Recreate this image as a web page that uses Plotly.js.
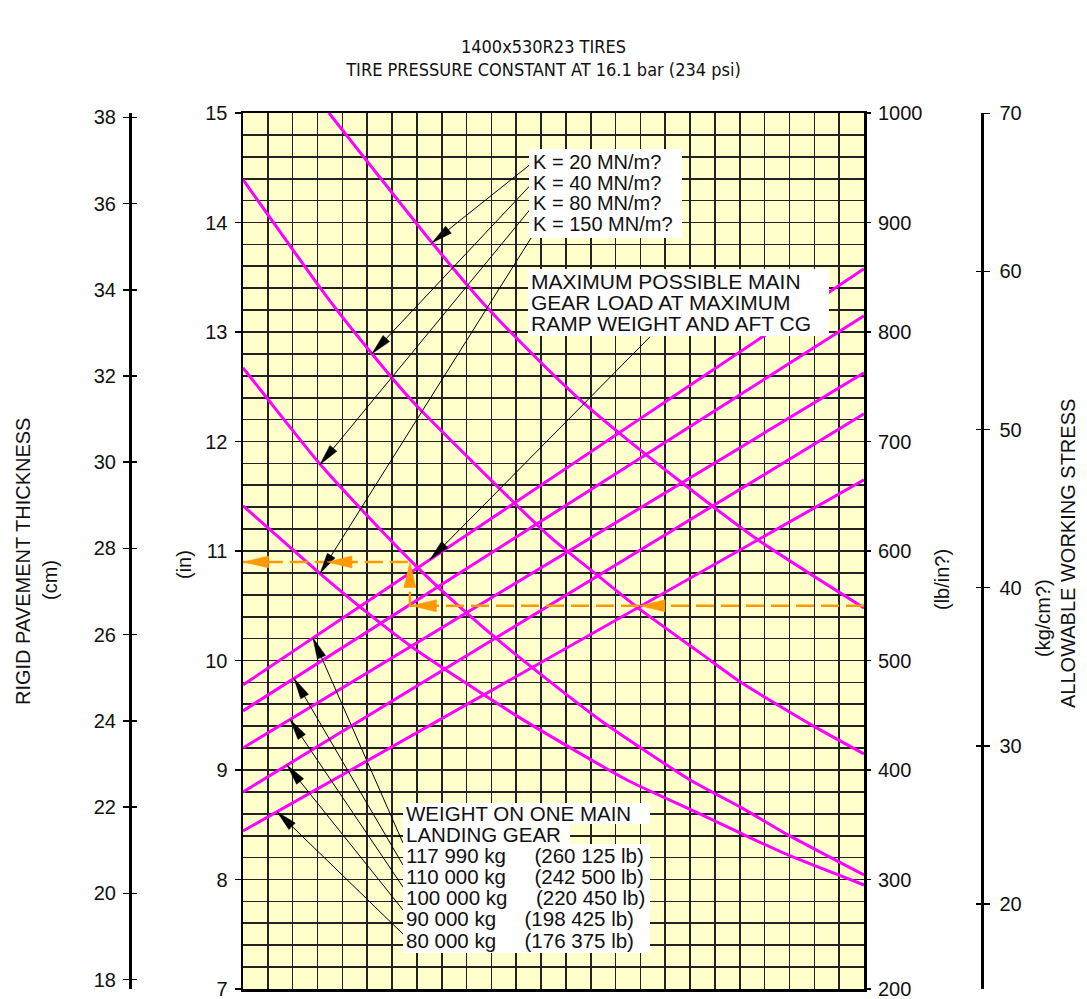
<!DOCTYPE html>
<html><head><meta charset="utf-8">
<script src="https://cdn.plot.ly/plotly-3.0.1.min.js"></script>
<style>html,body{margin:0;padding:0;background:#fff}#chart{width:1087px;height:999px}</style>
</head><body><div id="chart"></div>
<script>
// ---------- DATA (x = grid column on the hidden horizontal scale, y = thickness in inches) ----------
const k20X  = [3.46, 7.61, 9.54, 11.96, 13.57, 15.14, 17.67, 20.73, 25];
const k20Y  = [15.0, 13.815, 13.295, 12.728, 12.381, 12.079, 11.623, 11.102, 10.48];
const k40X  = [0, 3.46, 5.19, 6.80, 12.36, 14.25, 15.90, 18.40, 20.01, 22.95, 25];
const k40Y  = [14.391, 13.295, 12.801, 12.372, 11.129, 10.782, 10.481, 10.070, 9.805, 9.403, 9.147];
const k80X  = [0, 0.89, 3.02, 4.59, 7.00, 8.86, 10.75, 14.37, 18.00, 20.01, 21.94, 25];
const k80Y  = [12.673, 12.418, 11.815, 11.422, 10.855, 10.462, 10.097, 9.457, 8.909, 8.663, 8.407, 8.041];
const k150X = [0, 3.02, 4.71, 6.80, 11.15, 15.46, 18.20, 20.01, 21.94, 25];
const k150Y = [11.413, 10.810, 10.490, 10.124, 9.476, 8.909, 8.62, 8.425, 8.224, 7.950];

const kLabels = ['K = 20 MN/m?', 'K = 40 MN/m?', 'K = 80 MN/m?', 'K = 150 MN/m?'];

const weightKg = ['117 990 kg', '110 000 kg', '100 000 kg', '90 000 kg', '80 000 kg'];
const weightLb = ['(260 125 lb)', '(242 500 lb)', '(220 450 lb)', '(198 425 lb)', '(176 375 lb)'];
const weightEndsX = [0, 25];
const weightStartY = [9.777, 9.540, 9.202, 8.800, 8.443];
const weightEndY   = [13.578, 13.148, 12.628, 12.253, 11.650];

const exampleX = [25, 6.72, 6.72, 0];
const exampleY = [10.5, 10.5, 10.9, 10.9];

const inTicks  = [7, 8, 9, 10, 11, 12, 13, 14, 15];
const psiTicks = [200, 300, 400, 500, 600, 700, 800, 900, 1000];
const cmTicks  = [18, 20, 22, 24, 26, 28, 30, 32, 34, 36, 38];
const kgTicks  = [20, 30, 40, 50, 60, 70];

const titleLines = ['1400x530R23 TIRES', 'TIRE PRESSURE CONSTANT AT 16.1 bar (234 psi)'];
const maxLoadLines = ['MAXIMUM POSSIBLE MAIN', 'GEAR LOAD AT MAXIMUM', 'RAMP WEIGHT AND AFT CG'];
const weightHead = ['WEIGHT ON ONE MAIN', 'LANDING GEAR'];

// ---------- LAYOUT GEOMETRY ----------
const W = 1087, H = 999, ML = 60, MR = 60, MT = 113, MB = 10;
const PAPER_W = W - ML - MR, PAPER_H = H - MT - MB;
const xDom = [(243 - ML) / PAPER_W, (864 - ML) / PAPER_W];
const PW = (xDom[1] - xDom[0]) * PAPER_W, PH = PAPER_H;
const XR = [0, 25], YR = [7, 15];
function pX(px) { return (px - ML) / PAPER_W; }
function pY(py) { return (H - MB - py) / PAPER_H; }

const MAG = '#FF00FF', ORA = '#FF9900', GRID = '#222222', FONT = 'Liberation Sans, Arial, Helvetica, sans-serif';
const NARROW = 'Liberation Sans Narrow, Arial Narrow, DejaVu Sans Condensed, Liberation Sans, sans-serif';

// ---------- TRACES ----------
const traces = [];
function curve(x, y) {
  traces.push({x: x, y: y, type: 'scatter', mode: 'lines', hoverinfo: 'skip', showlegend: false,
    line: {color: MAG, width: 3, shape: 'spline', smoothing: 0.6}});
}
curve(k20X, k20Y); curve(k40X, k40Y); curve(k80X, k80Y); curve(k150X, k150Y);
for (let i = 0; i < weightStartY.length; i++) {
  traces.push({x: weightEndsX, y: [weightStartY[i], weightEndY[i]], type: 'scatter', mode: 'lines',
    hoverinfo: 'skip', showlegend: false, line: {color: MAG, width: 3}});
}
traces.push({x: exampleX, y: exampleY, type: 'scatter', mode: 'lines', hoverinfo: 'skip', showlegend: false,
  line: {color: ORA, width: 2.5, dash: '18px,7px'}});
// invisible helper traces so that every extra axis is drawn
[['y2', 600], ['y3', 28], ['y4', 28], ['y5', 40], ['y6', 40]].forEach(function (a) {
  traces.push({x: [12], y: [a[1]], yaxis: a[0], type: 'scatter', mode: 'markers',
    marker: {opacity: 0}, hoverinfo: 'skip', showlegend: false});
});

// ---------- ARROWS ----------
const shapes = [];
function headShape(tx, ty, ux, uy, len, hw, color) {
  const bx = -len * ux, by = -len * uy;
  const c1x = bx - hw * uy, c1y = by + hw * ux;
  const c2x = bx + hw * uy, c2y = by - hw * ux;
  shapes.push({type: 'path', xref: 'x', yref: 'y', xsizemode: 'pixel', ysizemode: 'pixel',
    xanchor: tx, yanchor: ty, layer: 'above',
    path: 'M0,0L' + c1x.toFixed(2) + ',' + (-c1y).toFixed(2) + 'L' + c2x.toFixed(2) + ',' + (-c2y).toFixed(2) + 'Z',
    fillcolor: color, line: {color: color, width: 0.5}});
}
function blackArrow(tail, tip) {
  shapes.push({type: 'line', xref: 'x', yref: 'y', x0: tail[0], y0: tail[1], x1: tip[0], y1: tip[1],
    layer: 'above', line: {color: '#000', width: 1}});
  const sx = (tip[0] - tail[0]) * PW / (XR[1] - XR[0]);
  const sy = -(tip[1] - tail[1]) * PH / (YR[1] - YR[0]);
  const L = Math.hypot(sx, sy);
  headShape(tip[0], tip[1], sx / L, sy / L, 21, 4.5, '#000');
}
// label leaders: [tail, tip]
const kArrows = [
  [[11.55, 14.528], [7.61, 13.815]],
  [[11.55, 14.336], [5.19, 12.801]],
  [[11.55, 14.117], [3.10, 11.79]],
  [[11.63, 13.870], [3.10, 10.795]]
];
const maxArrow = [[16.385, 12.956], [7.53, 10.922]];
const weightArrows = [
  [[6.44, 8.334], [2.818, 10.205]],
  [[6.44, 8.133], [2.053, 9.836]],
  [[6.44, 7.932], [1.892, 9.461]],
  [[6.44, 7.722], [1.771, 9.045]],
  [[6.44, 7.502], [1.369, 8.619]]
];
kArrows.forEach(function (a) { blackArrow(a[0], a[1]); });
blackArrow(maxArrow[0], maxArrow[1]);
weightArrows.forEach(function (a) { blackArrow(a[0], a[1]); });

// orange example arrowheads: [x, y, direction]
const exampleHeads = [[15.98, 10.5, 'left'], [6.78, 10.5, 'left'], [6.72, 10.895, 'up'], [3.38, 10.9, 'left'], [0.03, 10.9, 'left']];
exampleHeads.forEach(function (h) {
  const u = h[2] === 'left' ? [-1, 0] : [0, -1];
  headShape(h[0], h[1], u[0], u[1], 25, 6, ORA);
});

// white label backgrounds (page pixels: x0, y0, x1, y1)
const whiteBoxes = [
  [529, 149, 682, 238],
  [528, 269, 829, 336],
  [403, 803, 650, 824],
  [403, 823, 570, 845],
  [403, 844, 650, 953]
];
whiteBoxes.forEach(function (b) {
  shapes.push({type: 'rect', xref: 'paper', yref: 'paper', x0: pX(b[0]), x1: pX(b[2]), y0: pY(b[3]), y1: pY(b[1]),
    fillcolor: '#fff', line: {width: 0}, layer: 'above'});
});

// ---------- ANNOTATIONS ----------
const ann = [];
function txt(text, x, y, opts) {
  const o = Object.assign({text: text, xref: 'paper', yref: 'paper', x: pX(x), y: pY(y), showarrow: false,
    xanchor: 'center', yanchor: 'middle', font: {family: FONT, size: 20, color: '#111'}}, opts || {});
  ann.push(o);
}
const kY = [162, 182.5, 203, 224];
kLabels.forEach(function (t, i) { txt(t, 531, kY[i], {xanchor: 'left'}); });
const mY = [281, 302, 323];
maxLoadLines.forEach(function (t, i) { txt(t, 529, mY[i], {xanchor: 'left', font: {family: FONT, size: 21, color: '#111'}}); });
const wY = [813, 834, 855, 876, 897, 918.5, 940];
const NB = '\u00A0\u00A0\u00A0\u00A0\u00A0';
const weightRows = weightHead.concat(weightKg.map(function (k, i) { return k + NB + weightLb[i]; }));
weightRows.forEach(function (t, i) {
  txt(t, 404, wY[i], {xanchor: 'left', font: {family: FONT, size: 20.5, color: '#111'}});
});
// axis titles
txt('RIGID PAVEMENT THICKNESS', 23, 562, {textangle: -90});
txt('(cm)', 50, 580, {textangle: -90});
txt('(in)', 184, 565, {textangle: -90});
txt('(lb/in?)', 942, 580, {textangle: -90});
txt('(kg/cm?)', 1043, 618, {textangle: -90});
txt('ALLOWABLE WORKING STRESS', 1068, 554, {textangle: -90});

// ---------- LAYOUT ----------
const tickFont = {family: FONT, size: 20, color: '#111'};
const layout = {
  width: W, height: H, margin: {l: ML, r: MR, t: MT, b: MB},
  paper_bgcolor: '#fff', plot_bgcolor: '#FFFFCC', showlegend: false,
  font: {family: FONT, size: 20, color: '#111'},
  title: {text: titleLines.join('<br>'), x: 0.5, xref: 'paper', y: 1 - 53 / H, yref: 'container', yanchor: 'middle',
    font: {family: NARROW, size: 18, color: '#111'}},
  xaxis: {domain: xDom, range: XR, dtick: 1, tick0: 0, showgrid: true, gridcolor: GRID, gridwidth: 1.6,
    showticklabels: false, ticks: '', zeroline: false, showline: true, linecolor: '#000', linewidth: 2.5,
    mirror: true, fixedrange: true},
  yaxis: {range: YR, tickvals: inTicks, ticks: 'outside', ticklen: 6, tickwidth: 1.5, tickcolor: '#000',
    tickfont: tickFont, ticklabelstandoff: 3, ticklabeloverflow: 'allow', showgrid: true, gridcolor: GRID, gridwidth: 1.6,
    minor: {dtick: 0.2, tick0: 7, showgrid: true, gridcolor: GRID, gridwidth: 1.6, ticks: ''},
    zeroline: false, showline: true, linecolor: '#000', linewidth: 2.5, mirror: true, fixedrange: true},
  yaxis2: {overlaying: 'y', side: 'right', anchor: 'x', range: [200, 1000], tickvals: psiTicks,
    ticks: 'outside', ticklen: 6, tickwidth: 1.5, tickcolor: '#000', tickfont: tickFont, ticklabelstandoff: 3,
    ticklabeloverflow: 'allow', showgrid: false, zeroline: false, showline: false, fixedrange: true},
  yaxis3: {overlaying: 'y', side: 'left', anchor: 'free', position: pX(130), range: [17.78, 38.1],
    tickvals: cmTicks, ticks: 'outside', ticklen: 6, tickwidth: 1.5, tickcolor: '#000', tickfont: tickFont,
    ticklabelstandoff: 3, ticklabeloverflow: 'allow', showgrid: false, zeroline: false, showline: true,
    linecolor: '#000', linewidth: 2.5, fixedrange: true},
  yaxis4: {overlaying: 'y', side: 'left', anchor: 'free', position: pX(130), range: [17.78, 38.1],
    tickvals: cmTicks, ticks: 'inside', ticklen: 6, tickwidth: 1.5, tickcolor: '#000', showticklabels: false,
    showgrid: false, zeroline: false, showline: false, fixedrange: true},
  yaxis5: {overlaying: 'y', side: 'right', anchor: 'free', position: pX(982), range: [14.62, 70.02],
    tickvals: kgTicks, ticks: 'outside', ticklen: 6, tickwidth: 1.5, tickcolor: '#000', tickfont: tickFont,
    ticklabelstandoff: 6, ticklabeloverflow: 'allow', showgrid: false, zeroline: false, showline: true,
    linecolor: '#000', linewidth: 2.5, fixedrange: true},
  yaxis6: {overlaying: 'y', side: 'right', anchor: 'free', position: pX(982), range: [14.62, 70.02],
    tickvals: kgTicks, ticks: 'inside', ticklen: 6, tickwidth: 1.5, tickcolor: '#000', showticklabels: false,
    showgrid: false, zeroline: false, showline: false, fixedrange: true},
  shapes: shapes,
  annotations: ann
};

Plotly.newPlot('chart', traces, layout, {staticPlot: true, displayModeBar: false});
</script>
</body></html>
